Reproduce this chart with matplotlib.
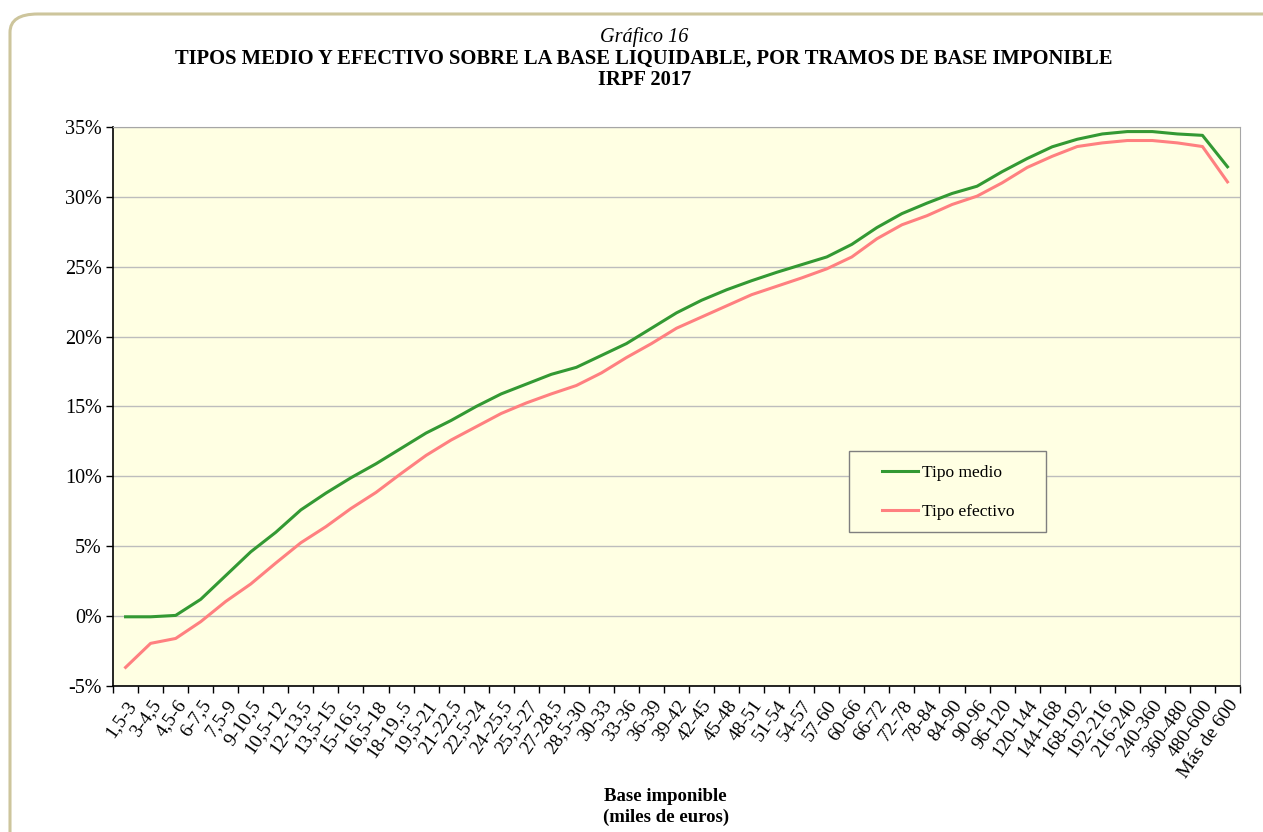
import numpy as np
import matplotlib.pyplot as plt
from matplotlib.patches import FancyBboxPatch, Rectangle
from matplotlib.ticker import FuncFormatter, FixedLocator

plt.rcParams['font.family'] = ['Liberation Serif', 'DejaVu Serif']

# tramos de base imponible (miles de euros)
tramos = ['1,5-3', '3-4,5', '4,5-6', '6-7,5', '7,5-9', '9-10,5', '10,5-12',
          '12-13,5', '13,5-15', '15-16,5', '16,5-18', '18-19,.5', '19,5-21',
          '21-22,5', '22,5-24', '24-25,5', '25,5-27', '27-28,5', '28,5-30',
          '30-33', '33-36', '36-39', '39-42', '42-45', '45-48', '48-51',
          '51-54', '54-57', '57-60', '60-66', '66-72', '72-78', '78-84',
          '84-90', '90-96', '96-120', '120-144', '144-168', '168-192',
          '192-216', '216-240', '240-360', '360-480', '480-600', 'Más de 600']

tipo_medio = [-0.05, -0.05, 0.05, 1.2, 2.9, 4.6, 6.0, 7.6, 8.8, 9.9, 10.9,
              12.0, 13.1, 14.0, 15.0, 15.9, 16.6, 17.3, 17.8, 18.65, 19.5,
              20.6, 21.7, 22.6, 23.35, 24.0, 24.6, 25.15, 25.7, 26.6, 27.8,
              28.8, 29.55, 30.24, 30.76, 31.8, 32.74, 33.58, 34.12, 34.5,
              34.67, 34.67, 34.5, 34.4, 32.15]

tipo_efectivo = [-3.67, -1.95, -1.6, -0.4, 1.05, 2.3, 3.8, 5.25, 6.4, 7.7,
                 8.85, 10.2, 11.5, 12.6, 13.55, 14.5, 15.25, 15.9, 16.5, 17.4,
                 18.5, 19.5, 20.6, 21.4, 22.2, 23.0, 23.6, 24.2, 24.85, 25.7,
                 27.0, 28.0, 28.65, 29.45, 30.05, 31.0, 32.1, 32.9, 33.6,
                 33.86, 34.03, 34.03, 33.86, 33.6, 31.07]

x = np.arange(len(tramos))
bg = '#ffffe3'

fig = plt.figure(figsize=(12.63, 8.32), dpi=100)
ax = fig.add_axes([0.0895, 0.1755, 0.8923, 0.6719])

# marco redondeado de la figura (el lado derecho e inferior quedan fuera)
frame = FancyBboxPatch((10 / 1263, -0.1), 1300 / 1263, 0.1 + 1 - 14 / 832,
                       boxstyle='round,pad=0,rounding_size=0.022',
                       transform=fig.transFigure, fill=False,
                       edgecolor='#cdc59c', linewidth=2.2, clip_on=False)
fig.patches.append(frame)

ax.set_facecolor(bg)
ax.plot(x, tipo_medio, color='#339933', lw=2.2, label='Tipo medio')
ax.plot(x, tipo_efectivo, color='#ff8080', lw=2.2, label='Tipo efectivo')

ax.set_xlim(-0.5, len(tramos) - 0.5)
ax.set_ylim(-5, 35)
ax.set_yticks(np.arange(-5, 36, 5))
ax.yaxis.set_major_formatter(FuncFormatter(lambda v, p: '%d%%' % v))
ax.yaxis.grid(True, color='#bdbdbd', lw=1.0)
ax.set_axisbelow(True)

ax.set_xticks(x)
ax.set_xticklabels(tramos, rotation=55, ha='right', va='top',
                   rotation_mode='anchor', fontsize=14)
ax.tick_params(axis='x', which='major', length=0, pad=8)
ax.xaxis.set_minor_locator(FixedLocator(np.arange(-0.5, len(tramos), 1)))
ax.tick_params(axis='x', which='minor', length=5, width=1.0, color='black')
ax.tick_params(axis='y', labelsize=14.5, length=5, width=1.0, pad=3)

for s in ['top', 'right']:
    ax.spines[s].set_color('#a6a6a6')
for s in ['left', 'bottom']:
    ax.spines[s].set_color('black')
    ax.spines[s].set_linewidth(1.2)

# caja de la leyenda
box = Rectangle((0.653, 0.2755), 0.175, 0.145, transform=ax.transAxes,
                facecolor=bg, edgecolor='#7f7f7f', lw=1.0, zorder=4)
ax.add_patch(box)
leg = ax.legend(loc='center left', bbox_to_anchor=(0.682, 0.346),
                fontsize=12.5, frameon=False, labelspacing=1.35,
                borderpad=0, handlelength=2.1, handletextpad=0.25,
                borderaxespad=0)
leg.set_zorder(5)

fig.text(0.51, 0.955, 'Gráfico 16', ha='center', va='center',
         fontsize=14.6, style='italic')
fig.text(0.51, 0.930, 'TIPOS MEDIO Y EFECTIVO SOBRE LA BASE LIQUIDABLE, POR TRAMOS DE BASE IMPONIBLE',
         ha='center', va='center', fontsize=14.8, weight='bold')
fig.text(0.51, 0.904, 'IRPF 2017', ha='center', va='center',
         fontsize=14.8, weight='bold')

fig.text(0.527, 0.043, 'Base imponible', ha='center', va='center',
         fontsize=13.5, weight='bold')
fig.text(0.527, 0.018, '(miles de euros)', ha='center', va='center',
         fontsize=13.5, weight='bold')

fig.savefig('out.png', dpi=100)
